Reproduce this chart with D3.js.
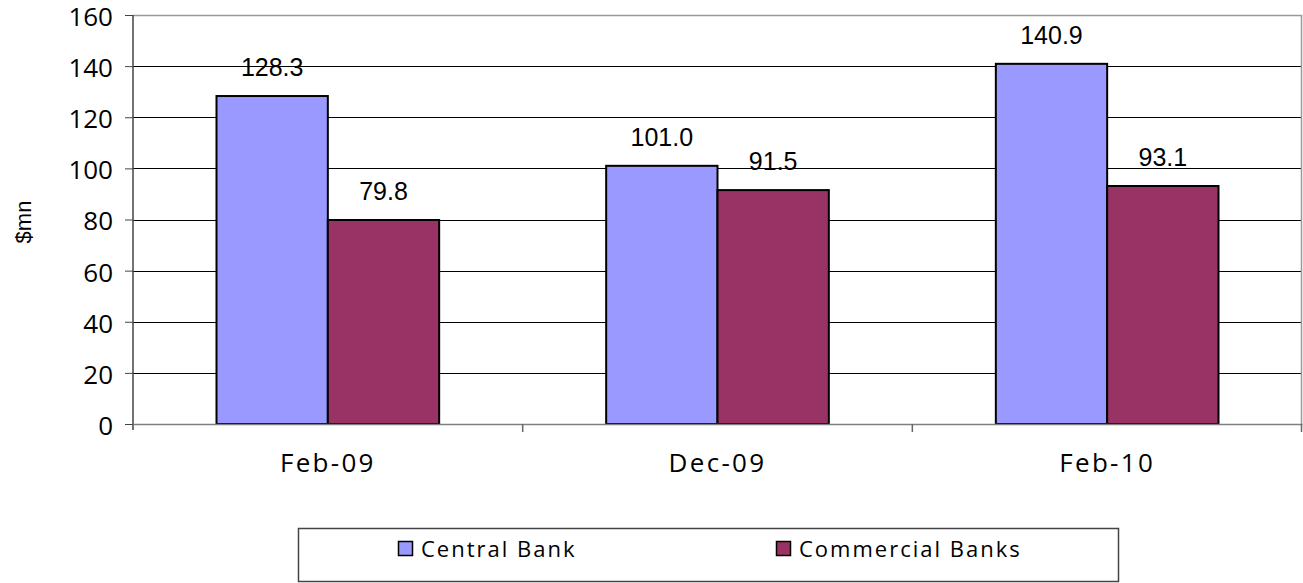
<!DOCTYPE html>
<html>
<head>
<meta charset="utf-8">
<script src="https://cdn.jsdelivr.net/npm/d3@7"></script>
<style>
  body { margin: 0; background: #fff; }
  svg { display: block; }
</style>
</head>
<body>
<div id="chart"></div>
<script>
const categories = ["Feb-09", "Dec-09", "Feb-10"]
const seriesNames = ["Central Bank", "Commercial Banks"]
const centralBank = [128.3, 101.0, 140.9]
const commercialBanks = [79.8, 91.5, 93.1]
const yTicks = [0, 20, 40, 60, 80, 100, 120, 140, 160]
const colors = ["#9999FF", "#993366"]

const svgWidth = 1303
const svgHeight = 583

const margin = { top: 15, right: 1, bottom: 159, left: 133 }
const chartWidth = svgWidth - margin.left - margin.right
const chartHeight = svgHeight - margin.top - margin.bottom

const svg = d3.select("#chart").append("svg")
  .attr("width", svgWidth)
  .attr("height", svgHeight)

const chartG = svg.append("g")
  .attr("transform", `translate(${margin.left}, ${margin.top})`)

const data = categories.map((c, i) => ({ cat: c, values: [centralBank[i], commercialBanks[i]] }))

const y = d3.scaleLinear().domain([0, 160]).range([chartHeight, 0])
const x0 = d3.scaleBand().domain(categories).range([0, chartWidth]).paddingInner(0).paddingOuter(0)
// Excel style: gap width 150% -> bar width = band / 3.5
const barW = x0.bandwidth() / 3.5
const x1 = d3.scaleBand().domain(seriesNames).range([0, barW * 2])

// gridlines
chartG.append("g")
  .selectAll("line")
  .data(yTicks.filter(t => t > 0 && t < 160))
  .enter().append("line")
  .attr("x1", 0).attr("x2", chartWidth)
  .attr("y1", d => Math.round(y(d)) + 0.5).attr("y2", d => Math.round(y(d)) + 0.5)
  .attr("stroke", "#000").attr("stroke-width", 1)

// plot border top/right
chartG.append("path")
  .attr("d", `M0,0.5H${chartWidth - 0.5}V${chartHeight}`)
  .attr("fill", "none").attr("stroke", "#999").attr("stroke-width", 1.5)

// bars
const groups = chartG.selectAll(".grp")
  .data(data).enter().append("g")
  .attr("transform", d => `translate(${x0(d.cat) + (x0.bandwidth() - barW * 2) / 2}, 0)`)

groups.selectAll("rect")
  .data(d => d.values.map((v, i) => ({ v, i })))
  .enter().append("rect")
  .attr("x", d => x1(seriesNames[d.i]))
  .attr("y", d => y(d.v))
  .attr("width", x1.bandwidth())
  .attr("height", d => chartHeight - y(d.v))
  .attr("fill", d => colors[d.i])
  .attr("stroke", "#000").attr("stroke-width", 2)

groups.selectAll("text")
  .data(d => d.values.map((v, i) => ({ v, i })))
  .enter().append("text")
  .attr("x", d => x1(seriesNames[d.i]) + x1.bandwidth() / 2)
  .attr("y", d => y(d.v) - 20)
  .attr("text-anchor", "middle")
  .attr("font-family", "Liberation Sans, Arial, sans-serif")
  .attr("font-size", 25)
  .attr("fill", "#000")
  .text(d => d.v.toFixed(1))

// y axis
const yAxis = d3.axisLeft(y).tickValues(yTicks).tickSize(8).tickPadding(12)
const yg = chartG.append("g").call(yAxis)
yg.select(".domain").attr("stroke", "#444").attr("stroke-width", 1.5).attr("d", `M0,0V${chartHeight + 6}`)
yg.selectAll(".tick line").attr("stroke", "#444")
yg.selectAll(".tick text")
  .attr("dy", "0.4em")
  .attr("font-family", "Open Sans, sans-serif")
  .attr("font-size", 26)
  .attr("fill", "#000")

// x axis
const xAxis = d3.axisBottom(x0).tickSize(0).tickPadding(30)
const xg = chartG.append("g")
  .attr("transform", `translate(0, ${chartHeight})`)
  .call(xAxis)
xg.select(".domain").attr("stroke", "#808080").attr("stroke-width", 1.5)
xg.selectAll(".tick text")
  .attr("font-family", "Open Sans, sans-serif")
  .attr("font-size", 26)
  .attr("letter-spacing", 2.3)
  .attr("fill", "#000")

// category boundary ticks
xg.append("g").selectAll("line")
  .data(categories.slice(1).map(c => x0(c)).concat([chartWidth - 0.5]))
  .enter().append("line")
  .attr("x1", d => d).attr("x2", d => d)
  .attr("y1", 0).attr("y2", 8)
  .attr("stroke", "#666").attr("stroke-width", 1.5)

// y axis title
svg.append("text")
  .attr("transform", "translate(31, 222) rotate(-90)")
  .attr("text-anchor", "middle")
  .attr("font-family", "Liberation Sans, Arial, sans-serif")
  .attr("font-size", 22)
  .attr("fill", "#000")
  .text("$mn")

// legend
const legend = svg.append("g")
legend.append("rect")
  .attr("x", 298.5).attr("y", 528.5)
  .attr("width", 820).attr("height", 53)
  .attr("fill", "#fff").attr("stroke", "#444").attr("stroke-width", 1.5)

const legendX = [398, 776]
const items = legend.selectAll(".item")
  .data(seriesNames).enter().append("g")
  .attr("transform", (d, i) => `translate(${legendX[i]}, 541)`)

items.append("rect")
  .attr("x", 0.5).attr("y", 0.5)
  .attr("width", 14).attr("height", 14)
  .attr("fill", (d, i) => colors[i])
  .attr("stroke", "#000").attr("stroke-width", 1.5)

items.append("text")
  .attr("x", 23).attr("y", 15.5)
  .attr("font-family", "Open Sans, sans-serif")
  .attr("font-size", 22)
  .attr("letter-spacing", 2)
  .attr("fill", "#000")
  .text(d => d)
</script>
</body>
</html>
